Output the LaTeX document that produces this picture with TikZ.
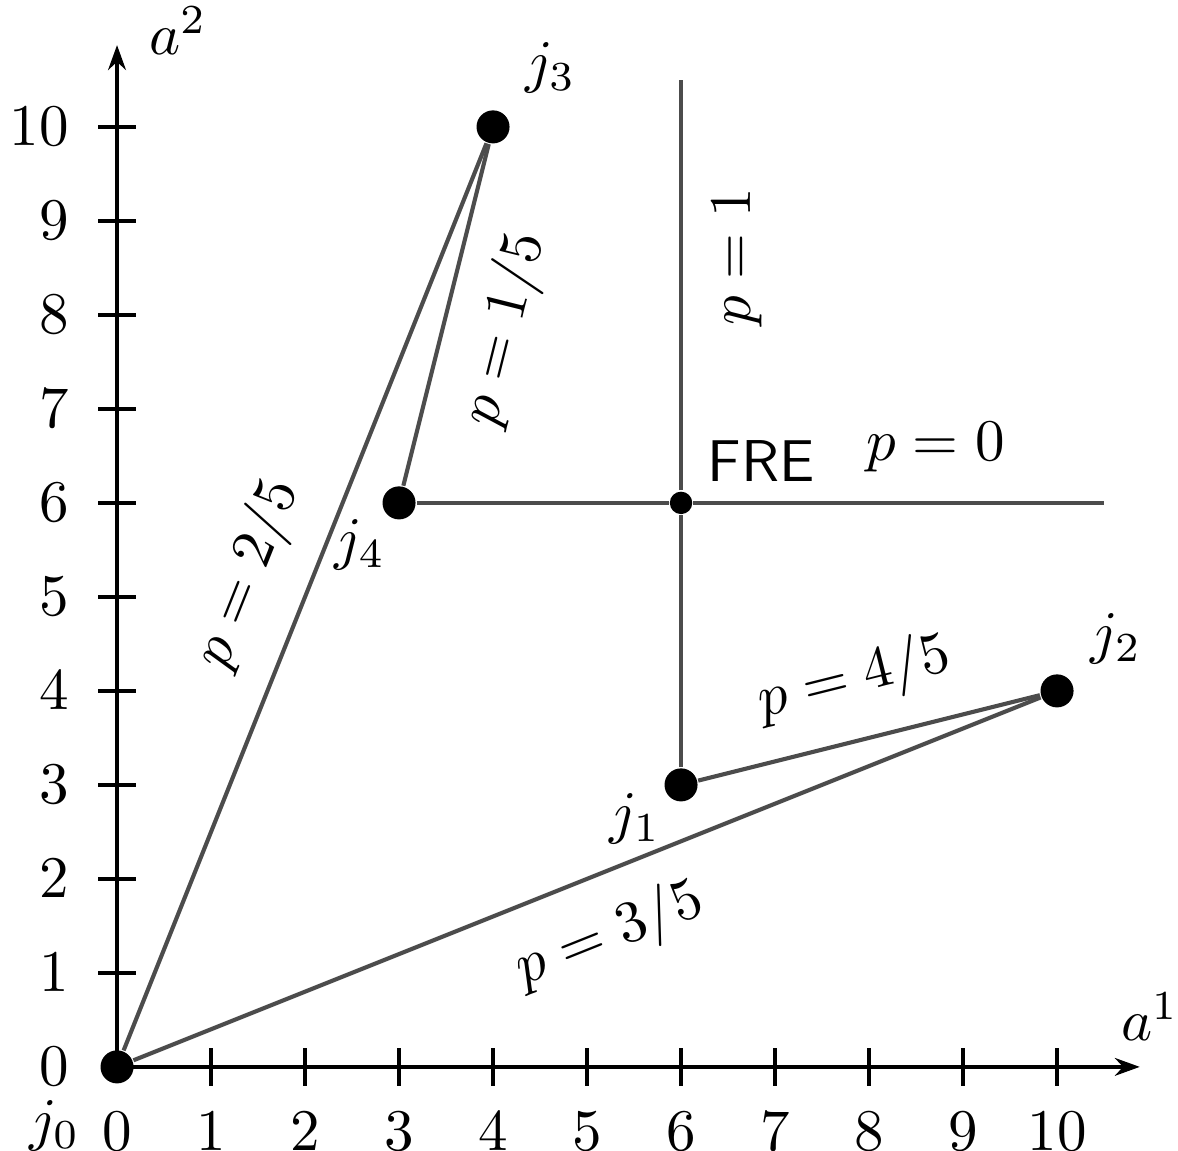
\documentclass[tikz,border=0pt]{standalone}
\usetikzlibrary{arrows.meta, positioning}
\usepackage{amsmath,amssymb}
\begin{document}
\begin{tikzpicture}[
x=0.56cm, y=0.56cm,
axis/.style={thick, -{Stealth[length=4.2pt, width=3pt]}},
tick/.style={thick},
seg/.style={line width=0.7pt, black!70},
bigdot/.style={circle, fill=black, inner sep=0pt, minimum size=5.6pt},
smalldot/.style={circle, fill=black, inner sep=0pt, minimum size=3.8pt},
lbl/.style={inner sep=0pt},
plbl/.style={sloped, text=black, inner sep=0pt, outer sep=5.3pt, pos=0.5}
]
\useasboundingbox (-1.245,-0.894) rectangle (11.287,11.35);

\coordinate (origin) at (0,0);
\coordinate (xtip) at (10.88,0);
\coordinate (ytip) at (0,10.87);
\draw[axis] (origin) -- (xtip);
\draw[axis] (origin) -- (ytip);
\node[lbl, above=1.5mm of xtip, xshift=0.6mm] (a1) {$a^1$};
\node[lbl, right=1.85mm of ytip, yshift=0.85mm] (a2) {$a^2$};

\foreach \i in {1,...,10} {
  \draw[tick] (\i,0.2) -- (\i,-0.2);
  \draw[tick] (0.2,\i) -- (-0.2,\i);
}
\foreach \i in {0,...,10} {
  \node (xl\i) at (\i,-0.69) {$\i$};
  \node[anchor=east] (yl\i) at (-0.29,\i) {$\i$};
}

\node[bigdot] (j0) at (0,0) {};
\node[bigdot] (j1) at (6,3) {};
\node[bigdot] (j2) at (10,4) {};
\node[bigdot] (j3) at (4,10) {};
\node[bigdot] (j4) at (3,6) {};
\node[smalldot] (fre) at (6,6) {};
\coordinate (vend) at (6,10.5);
\coordinate (hend) at (10.5,6);

\node[lbl, below left=1.2mm and 1.4mm of j0] (j0lbl) {$j_0$};
\node[lbl, below left=-0.3mm and 0.4mm of j1] (j1lbl) {$j_1$};
\node[lbl, above right=0.8mm and 1.2mm of j2] (j2lbl) {$j_2$};
\node[lbl, above right=1.2mm and 1.1mm of j3] (j3lbl) {$j_3$};
\node[lbl, below left=0.2mm and 0mm of j4] (j4lbl) {$j_4$};
\node[lbl, above right=0.7mm and 1mm of fre, font=\sffamily] (frelbl) {FRE};

\draw[seg] (j0) -- node[plbl, above] (p25) {$p=2/5$} (j3);
\draw[seg] (j4) -- node[plbl, below] (p15) {$p=1/5$} (j3);
\draw[seg] (j4) -- (fre);
\draw[seg] (fre) -- node[plbl, above, pos=0.59] (p0) {$p=0$} (hend);
\draw[seg] (j1) -- (fre);
\draw[seg] (fre) -- node[plbl, below, pos=0.57] (p1) {$p=1$} (vend);
\draw[seg] (j1) -- node[plbl, above] (p45) {$p=4/5$} (j2);
\draw[seg] (j0) -- node[plbl, below] (p35) {$p=3/5$} (j2);

\end{tikzpicture}
\end{document}
